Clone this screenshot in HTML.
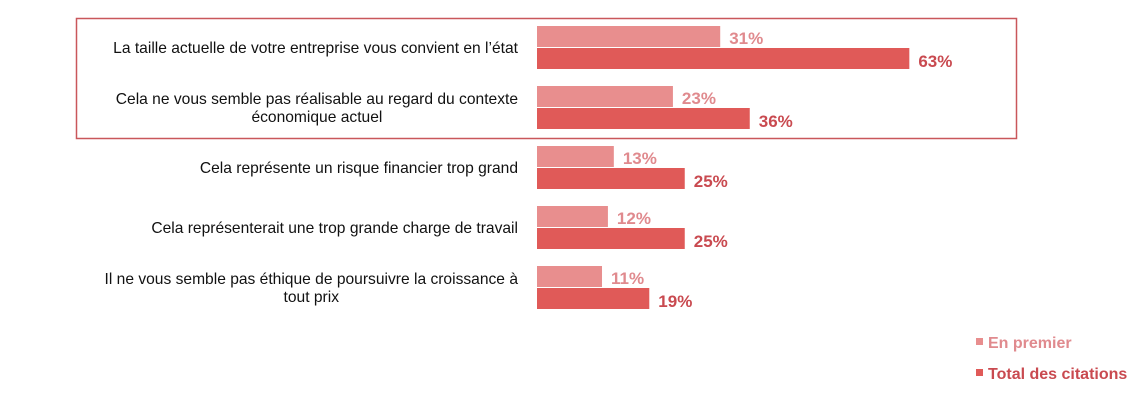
<!DOCTYPE html>
<html><head><meta charset="utf-8"><style>
body{margin:0;width:1148px;height:406px;background:#fff;overflow:hidden;font-family:"Liberation Sans",sans-serif}
</style></head><body>
<svg id="c" width="1148" height="406"></svg>
<script>
const categories=[["La taille actuelle de votre entreprise vous convient en l’état"],["Cela ne vous semble pas réalisable au regard du contexte","économique actuel"],["Cela représente un risque financier trop grand"],["Cela représenterait une trop grande charge de travail"],["Il ne vous semble pas éthique de poursuivre la croissance à","tout prix"]];
const enPremier=[31,23,13,12,11];
const totalCitations=[63,36,25,25,19];
const valueLabels1=["31%","23%","13%","12%","11%"];
const valueLabels2=["63%","36%","25%","25%","19%"];
const svg=document.getElementById('c');const NS='http://www.w3.org/2000/svg';
function x(v){return 537+v*5.91;}
function rowY(i){return 26+i*60;}
function mk(t,a,txt){const e=document.createElementNS(NS,t);for(const k in a)e.setAttribute(k,a[k]);if(txt!=null)e.textContent=txt;svg.appendChild(e);return e;}
let b=mk('rect',{x:76.5,y:18.5,width:940,height:120,fill:'none',stroke:'#c9575b','stroke-width':1.5});


categories.forEach((lines,i)=>{
 const y=rowY(i);
 const n=lines.length;
 let w0=0;
 lines.forEach((l,j)=>{
  const t=mk('text',{x:518,y:(n==1?y+27:y+18+j*18),'text-anchor':'end','font-size':15.6,fill:'#111'},l);
  
  
  if(j==0){w0=t.getComputedTextLength();}
  else{t.setAttribute('text-anchor','middle');t.setAttribute('x',518-w0/2);}
 });
 let r=mk('rect',{x:537,y:y,width:x(enPremier[i])-537,height:21,fill:'#e88e8e'});
 
 
 let r2=mk('rect',{x:537,y:y+22,width:x(totalCitations[i])-537,height:21,fill:'#e05a58'});
 
 
 let t1=mk('text',{x:x(enPremier[i])+9,y:y+18,'font-size':17,'font-weight':'bold',fill:'#e08a8e'},valueLabels1[i]);
 
 
 let t2=mk('text',{x:x(totalCitations[i])+9,y:y+41,'font-size':17,'font-weight':'bold',fill:'#c94a50'},valueLabels2[i]);
 
 
});
[['En premier','#e88e8e','#e08a8e',348],['Total des citations','#e05a58','#c94a50',379]].forEach(([l,c,tc,y])=>{
 let s=mk('rect',{x:976,y:y-10,width:7,height:7,fill:c});
 
 
 let t=mk('text',{x:988,y:y,'font-size':16,'font-weight':'bold',fill:tc},l);
 
 
});
</script>
</body></html>
